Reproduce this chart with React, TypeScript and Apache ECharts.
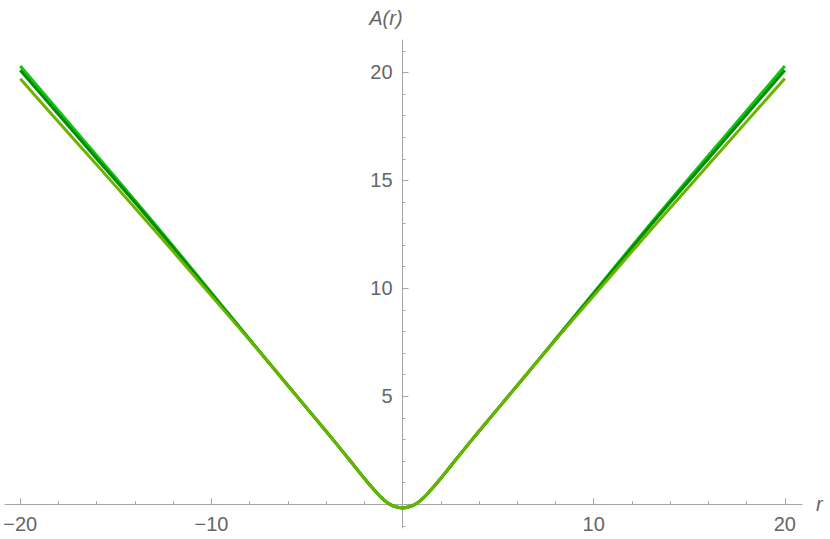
import React, { useEffect, useRef } from "react";
import * as echarts from "echarts";

const rValues = [-20, -18, -16, -14, -12, -10, -8, -6, -4, -3, -2.5, -2, -1.5, -1, -0.5, 0, 0.5, 1, 1.5, 2, 2.5, 3, 4, 6, 8, 10, 12, 14, 16, 18, 20];
const brightGreen = [20.3, 18.22, 16.15, 14.07, 11.95, 9.8, 7.64, 5.5, 3.38, 2.3, 1.75, 1.2, 0.68, 0.22, -0.08, -0.17, -0.08, 0.22, 0.68, 1.2, 1.75, 2.3, 3.38, 5.5, 7.64, 9.8, 11.95, 14.07, 16.15, 18.22, 20.3];
const darkGreen = [20.1, 18.05, 16.0, 13.97, 11.88, 9.75, 7.62, 5.5, 3.38, 2.3, 1.75, 1.2, 0.68, 0.22, -0.08, -0.17, -0.08, 0.22, 0.68, 1.2, 1.75, 2.3, 3.38, 5.5, 7.62, 9.75, 11.88, 13.97, 16.0, 18.05, 20.1];
const yellowGreen = [19.7, 17.7, 15.72, 13.72, 11.7, 9.65, 7.6, 5.5, 3.38, 2.3, 1.75, 1.2, 0.68, 0.22, -0.08, -0.17, -0.08, 0.22, 0.68, 1.2, 1.75, 2.3, 3.38, 5.5, 7.6, 9.65, 11.7, 13.72, 15.72, 17.72, 19.72];

const xMajorTicks = [-20, -10, 0, 10, 20];
const xMinorTicks = [-18, -16, -14, -12, -8, -6, -4, -2, 2, 4, 6, 8, 12, 14, 16, 18];
const xLabels = [-20, -10, 10, 20];
const yMajorTicks = [0, 5, 10, 15, 20];
const yMinorTicks = [-1, 1, 2, 3, 4, 6, 7, 8, 9, 11, 12, 13, 14, 16, 17, 18, 19, 21];
const yLabels = [5, 10, 15, 20];

const seriesDefs = [
  { name: "bright", color: "#11C411", values: brightGreen },
  { name: "dark", color: "#008F00", values: darkGreen },
  { name: "yellow", color: "#6BB300", values: yellowGreen },
];

const fmt = (v: number) => (v < 0 ? "\u2212" + Math.abs(v) : String(v));

const X_MIN = -20.8, X_MAX = 20.9, Y_MIN = -1.1, Y_MAX = 21.5;
const GRID = { left: 5, right: 28, top: 40, bottom: 11 };
const W = 830, H = 539;

export default function App() {
  const ref = useRef<HTMLDivElement>(null);
  useEffect(() => {
    if (!ref.current) return;
    const chart = echarts.init(ref.current, undefined, { renderer: "svg" });
    const axisColor = "#a6a6a6";
    const labelStyle = { color: "#666666", fontSize: 20, fontFamily: "Liberation Sans, Arial, sans-serif" };
    // place axes at the zero crossing via offset (grid-relative)
    const gw = W - GRID.left - GRID.right;
    const gh = H - GRID.top - GRID.bottom;
    const yOffset = -((0 - X_MIN) / (X_MAX - X_MIN)) * gw;
    const xOffset = -((0 - Y_MIN) / (Y_MAX - Y_MIN)) * gh;
    const minorTick = { show: true, inside: true, length: 3, lineStyle: { color: axisColor } };
    chart.setOption({
      animation: false,
      grid: { ...GRID, containLabel: false, outerBoundsMode: "none" },
      xAxis: [
        {
          type: "value",
          min: X_MIN,
          max: X_MAX,
          position: "bottom",
          offset: xOffset,
          splitLine: { show: false },
          axisLine: { onZero: false, lineStyle: { color: axisColor, width: 1 } },
          axisTick: { inside: true, length: 6, lineStyle: { color: axisColor }, customValues: xMajorTicks },
          axisLabel: { ...labelStyle, margin: 10, formatter: fmt, customValues: xLabels },
          name: "r",
          nameLocation: "end",
          nameGap: 14,
          nameTextStyle: { ...labelStyle, fontStyle: "italic", verticalAlign: "middle" },
        },
        {
          type: "value",
          min: X_MIN,
          max: X_MAX,
          position: "bottom",
          offset: xOffset,
          splitLine: { show: false },
          axisLine: { show: false, onZero: false },
          axisLabel: { show: false },
          axisTick: { ...minorTick, customValues: xMinorTicks },
        },
      ],
      yAxis: [
        {
          type: "value",
          min: Y_MIN,
          max: Y_MAX,
          position: "left",
          offset: yOffset,
          splitLine: { show: false },
          axisLine: { onZero: false, lineStyle: { color: axisColor, width: 1 } },
          axisTick: { inside: true, length: 6, lineStyle: { color: axisColor }, customValues: yMajorTicks },
          axisLabel: { ...labelStyle, margin: 10, formatter: fmt, customValues: yLabels },
          name: "A(r)",
          nameLocation: "end",
          nameGap: 12,
          nameTextStyle: { ...labelStyle, fontStyle: "italic", align: "right" },
        },
        {
          type: "value",
          min: Y_MIN,
          max: Y_MAX,
          position: "left",
          offset: yOffset,
          splitLine: { show: false },
          axisLine: { show: false, onZero: false },
          axisLabel: { show: false },
          axisTick: { ...minorTick, customValues: yMinorTicks },
        },
      ],
      series: seriesDefs.map((s, i) => ({
        type: "line",
        name: s.name,
        xAxisIndex: 0,
        yAxisIndex: 0,
        data: rValues.map((r, j) => [r, s.values[j]]),
        smooth: 0.4,
        showSymbol: false,
        symbol: "none",
        z: 2 + i,
        lineStyle: { color: s.color, width: 3 },
      })),
    });
    return () => chart.dispose();
  }, []);
  return <div ref={ref} style={{ width: W, height: H, position: "absolute", left: 0, top: 0 }} />;
}
